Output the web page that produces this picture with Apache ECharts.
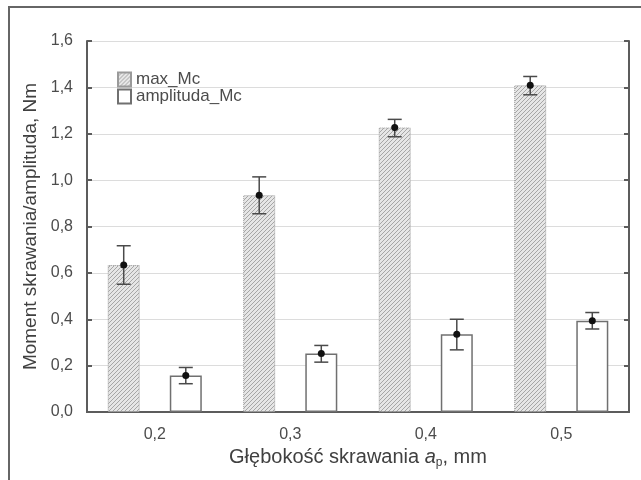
<!DOCTYPE html>
<html>
<head>
<meta charset="utf-8">
<script src="https://cdn.jsdelivr.net/npm/echarts@6/dist/echarts.min.js"></script>
<style>
  html, body { margin: 0; padding: 0; background: #fff; overflow: hidden; }
  #frame { position: absolute; left: 8px; top: 6px; width: 700px; height: 520px; border: 2px solid #666; box-sizing: border-box; }
  #chart { position: absolute; left: 0; top: 0; width: 641px; height: 480px; }
</style>
</head>
<body>
<div id="frame"></div>
<div id="chart"></div>
<script>
const categories = ['0,2', '0,3', '0,4', '0,5']
const maxMc      = [0.634, 0.935, 1.227, 1.409]
const maxMcLow   = [0.551, 0.855, 1.187, 1.368]
const maxMcHigh  = [0.717, 1.014, 1.262, 1.447]
const ampMc      = [0.157, 0.252, 0.335, 0.394]
const ampMcLow   = [0.122, 0.215, 0.268, 0.358]
const ampMcHigh  = [0.192, 0.287, 0.400, 0.429]

const textColor = '#4c4c4c'
const axisColor = '#5c5c5c'
const barWidth = 32
const barGap = 0.94
const half = (barWidth + barWidth * barGap) / 2

// diagonal hatch for max_Mc
function hatch() {
  const c = document.createElement('canvas')
  c.width = 4; c.height = 4
  const g = c.getContext('2d')
  g.fillStyle = '#e6e6e6'
  g.fillRect(0, 0, 4, 4)
  g.strokeStyle = '#a6a6a6'
  g.lineWidth = 1
  g.beginPath()
  g.moveTo(0, 4); g.lineTo(4, 0)
  g.moveTo(-1, 1); g.lineTo(1, -1)
  g.moveTo(3, 5); g.lineTo(5, 3)
  g.stroke()
  return c
}

function errorSeries(mean, low, high, dx) {
  return {
    type: 'custom',
    z: 5,
    data: mean.map((m, i) => [i, m, low[i], high[i]]),
    encode: { x: 0, y: 1 },
    renderItem(params, api) {
      const i = api.value(0)
      const p = api.coord([i, api.value(1)])
      const lo = api.coord([i, api.value(2)])
      const hi = api.coord([i, api.value(3)])
      const x = p[0] + dx
      const cap = 7
      const st = { stroke: '#4a4a4a', lineWidth: 1.5 }
      return {
        type: 'group',
        children: [
          { type: 'line', shape: { x1: x, y1: lo[1], x2: x, y2: hi[1] }, style: st },
          { type: 'line', shape: { x1: x - cap, y1: lo[1], x2: x + cap, y2: lo[1] }, style: st },
          { type: 'line', shape: { x1: x - cap, y1: hi[1], x2: x + cap, y2: hi[1] }, style: st },
          { type: 'circle', shape: { cx: x, cy: p[1], r: 3.5 }, style: { fill: '#111' } }
        ]
      }
    }
  }
}

const chart = echarts.init(document.getElementById('chart'), null, { renderer: 'canvas' })

const fmt = v => v.toFixed(1).replace('.', ',')

chart.setOption({
  animation: false,
  backgroundColor: 'transparent',
  textStyle: { fontFamily: 'Liberation Sans, Arial, sans-serif' },
  grid: { left: 87, right: 12, top: 41, bottom: 68 },
  legend: {
    data: ['max_Mc', 'amplituda_Mc'],
    orient: 'vertical',
    left: 112, top: 66,
    itemWidth: 13, itemHeight: 14, itemGap: 0,
    icon: 'rect',
    textStyle: { color: textColor, fontSize: 17 }
  },
  xAxis: [
    {
      type: 'category', data: categories, position: 'bottom',
      axisLine: { lineStyle: { color: axisColor, width: 2 } },
      axisTick: { inside: true, alignWithLabel: true, length: 5, lineStyle: { color: axisColor, width: 2 } },
      axisLabel: { color: textColor, fontSize: 16, margin: 15 },
      name: 'Głębokość skrawania {i|a}{p|p}, mm',
      nameLocation: 'middle', nameGap: 33,
      nameTextStyle: {
        color: '#404040', fontSize: 20,
        rich: {
          i: { fontStyle: 'italic', fontSize: 20, color: '#404040' },
          p: { fontSize: 12, color: '#404040', padding: [9, 0, 0, 0] }
        }
      }
    },
    {
      type: 'category', data: categories, position: 'top',
      axisLine: { lineStyle: { color: axisColor, width: 2 } },
      axisTick: { inside: true, alignWithLabel: true, length: 5, lineStyle: { color: axisColor, width: 2 } },
      axisLabel: { show: false }
    }
  ],
  yAxis: [
    {
      type: 'value', min: 0, max: 1.6, interval: 0.2, position: 'left',
      axisLine: { show: true, lineStyle: { color: axisColor, width: 2 } },
      axisTick: { show: true, inside: true, length: 5, lineStyle: { color: axisColor, width: 2 } },
      axisLabel: { color: textColor, fontSize: 16, margin: 14, formatter: fmt },
      splitLine: { lineStyle: { color: '#dcdcdc', width: 1 } },
      name: 'Moment skrawania/amplituda, Nm',
      nameLocation: 'middle', nameGap: 37,
      nameTextStyle: { color: '#404040', fontSize: 19 }
    },
    {
      type: 'value', min: 0, max: 1.6, interval: 0.2, position: 'right',
      axisLine: { show: true, lineStyle: { color: axisColor, width: 2 } },
      axisTick: { show: true, inside: true, length: 5, lineStyle: { color: axisColor, width: 2 } },
      axisLabel: { show: false },
      splitLine: { show: false }
    }
  ],
  series: [
    {
      name: 'max_Mc', type: 'bar', data: maxMc,
      barWidth: barWidth, barGap: (barGap * 100) + '%',
      itemStyle: {
        color: { image: hatch(), repeat: 'repeat' },
        borderColor: '#9a9a9a', borderWidth: 1, borderType: 'dotted'
      }
    },
    {
      name: 'amplituda_Mc', type: 'bar', data: ampMc,
      barWidth: barWidth,
      itemStyle: { color: '#fff', borderColor: '#707070', borderWidth: 1.5 }
    },
    errorSeries(maxMc, maxMcLow, maxMcHigh, -half),
    errorSeries(ampMc, ampMcLow, ampMcHigh, half)
  ]
})
</script>
</body>
</html>
